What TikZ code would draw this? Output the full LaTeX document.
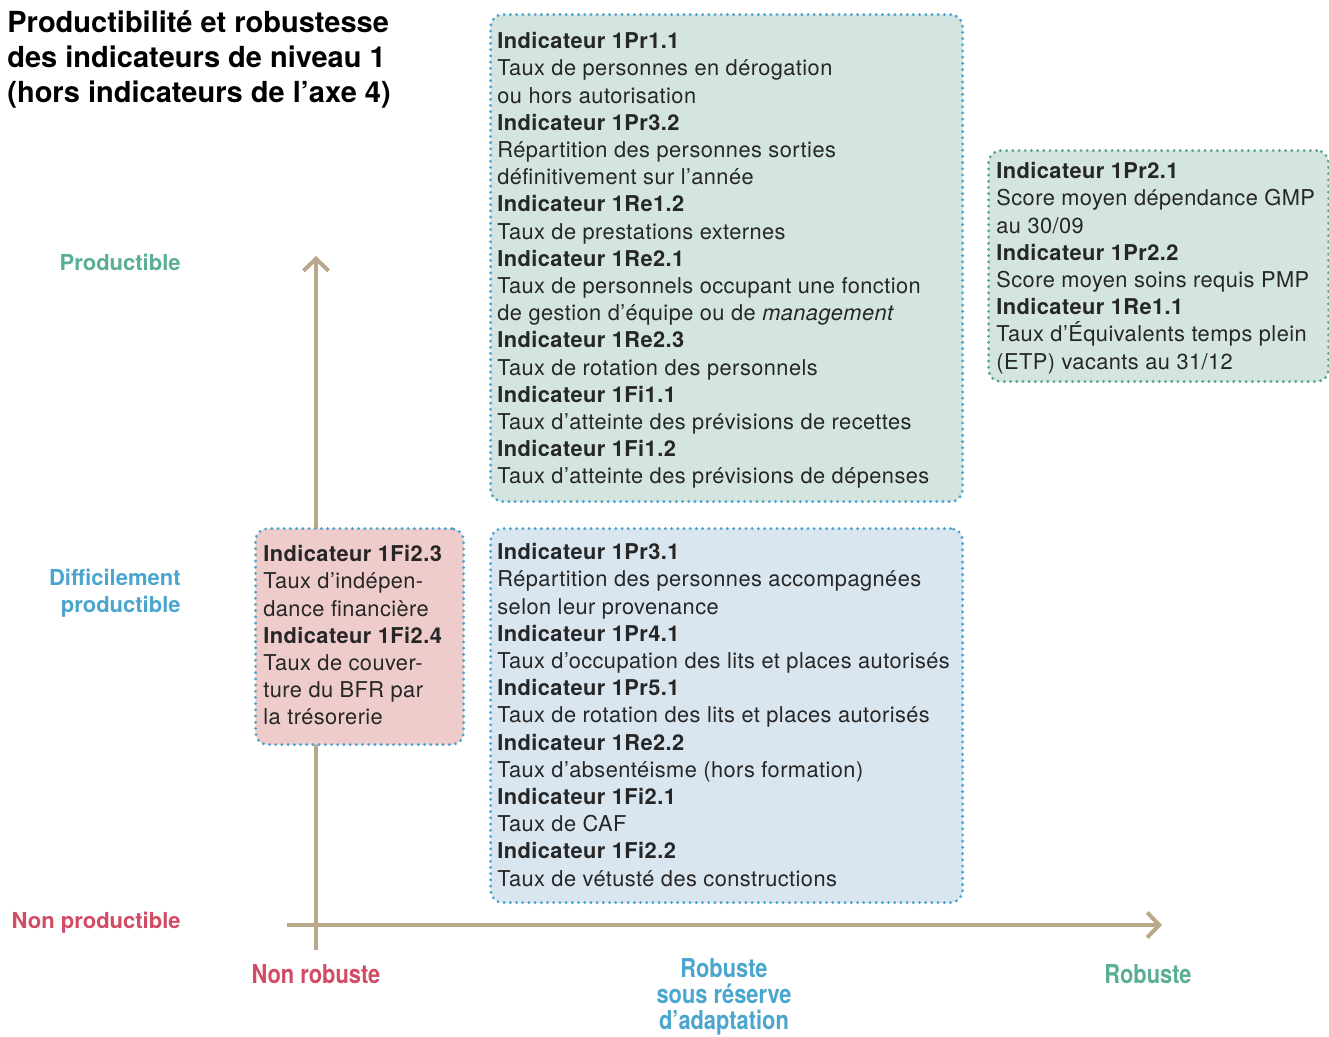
\documentclass[tikz,border=0pt]{standalone}
\usepackage{fontspec}
\setmainfont{TeX Gyre Heros}
\newfontfamily\bodyfont[LetterSpace=2]{TeX Gyre Heros}
\usetikzlibrary{arrows.meta,calc}
\definecolor{axiscol}{RGB}{185,168,138}
\definecolor{dotblue}{RGB}{74,163,207}
\definecolor{dotgreen}{RGB}{88,166,140}
\definecolor{fillgreen}{RGB}{212,228,222}
\definecolor{fillblue}{RGB}{217,229,239}
\definecolor{fillpink}{RGB}{239,204,204}
\definecolor{labgreen}{RGB}{90,174,150}
\definecolor{labblue}{RGB}{74,165,207}
\definecolor{labred}{RGB}{210,74,99}
\definecolor{txtcol}{RGB}{38,38,38}
\newcommand{\cond}[1]{\scalebox{0.84}[1]{#1}}
\begin{document}
\begin{tikzpicture}[x=0.5pt,y=-0.5pt,
  panel/.style={draw=dotblue, line width=1.6pt, dash pattern=on 0pt off 3.1pt,
    line cap=round, rounded corners=6pt, inner sep=0pt, anchor=north west},
  paneltext/.style={anchor=north west, inner sep=0pt, align=left, text=txtcol,
    font=\bodyfont\fontsize{10.9pt}{13.6pt}\selectfont},
  axis/.style={draw=axiscol, line width=2pt,
    -{Straight Barb[length=6pt,width=12.5pt]}},
  sidelabel/.style={inner sep=0pt, align=right, font=\bfseries\fontsize{11pt}{13.5pt}\selectfont},
  foot/.style={inner sep=0pt, align=center, font=\bfseries\fontsize{13pt}{12.9pt}\selectfont}]
\useasboundingbox (0,0) rectangle (1329,1037);

% title
\node[anchor=north west, inner sep=0pt, align=left, text=black,
  font=\bfseries\fontsize{14.5pt}{17.5pt}\selectfont] (title) at (7,10)
  {Productibilité et robustesse\\des indicateurs de niveau 1\\(hors indicateurs de l’axe 4)};

% axes
\coordinate (yfoot) at (316,950);
\coordinate (ytip) at (316,256);
\coordinate (xfoot) at (287,925);
\coordinate (xtip) at (1162,925);
\draw[axis] (yfoot) -- (ytip);
\draw[axis] (xfoot) -- (xtip);

% axis labels
\node[sidelabel, text=labgreen, anchor=east] (prod) at (181,262) {Productible};
\node[sidelabel, text=labblue, anchor=east] (dprod) at (181,593) {Difficilement\\productible};
\node[sidelabel, text=labred, anchor=east] (nprod) at (181,923) {Non productible};
\node[foot, text=labred] (nrob) at (316,974) {\cond{Non robuste}};
\node[foot, text=labblue] (rsr) at (724,997) {\cond{Robuste}\\\cond{sous réserve}\\\cond{d’adaptation}};
\node[foot, text=labgreen] (rob) at (1148,974) {\cond{Robuste}};

% panels
\node[panel, fill=fillgreen, minimum width=236pt, minimum height=243.5pt] (pa) at (489,13) {};
\node[panel, draw=dotgreen, fill=fillgreen, minimum width=170pt, minimum height=115.5pt] (pb) at (987,149) {};
\node[panel, fill=fillpink, minimum width=104pt, minimum height=108pt] (pc) at (254,527) {};
\node[panel, fill=fillblue, minimum width=236pt, minimum height=187pt] (pd) at (489,527) {};

\node[paneltext] (ta) at (497,32) {%
\textbf{Indicateur 1Pr1.1}\\
Taux de personnes en dérogation\\
ou hors autorisation\\
\textbf{Indicateur 1Pr3.2}\\
Répartition des personnes sorties\\
définitivement sur l’année\\
\textbf{Indicateur 1Re1.2}\\
Taux de prestations externes\\
\textbf{Indicateur 1Re2.1}\\
Taux de personnels occupant une fonction\\
de gestion d’équipe ou de \textit{management}\\
\textbf{Indicateur 1Re2.3}\\
Taux de rotation des personnels\\
\textbf{Indicateur 1Fi1.1}\\
Taux d’atteinte des prévisions de recettes\\
\textbf{Indicateur 1Fi1.2}\\
Taux d’atteinte des prévisions de dépenses};

\node[paneltext] (tb) at (996,162) {%
\textbf{Indicateur 1Pr2.1}\\
Score moyen dépendance GMP\\
au 30/09\\
\textbf{Indicateur 1Pr2.2}\\
Score moyen soins requis PMP\\
\textbf{Indicateur 1Re1.1}\\
Taux d’Équivalents temps plein\\
(ETP) vacants au 31/12};

\node[paneltext] (tc) at (263,545) {%
\textbf{Indicateur 1Fi2.3}\\
Taux d’indépen-\\
dance financière\\
\textbf{Indicateur 1Fi2.4}\\
Taux de couver-\\
ture du BFR par\\
la trésorerie};

\node[paneltext] (td) at (497,543) {%
\textbf{Indicateur 1Pr3.1}\\
Répartition des personnes accompagnées\\
selon leur provenance\\
\textbf{Indicateur 1Pr4.1}\\
Taux d’occupation des lits et places autorisés\\
\textbf{Indicateur 1Pr5.1}\\
Taux de rotation des lits et places autorisés\\
\textbf{Indicateur 1Re2.2}\\
Taux d’absentéisme (hors formation)\\
\textbf{Indicateur 1Fi2.1}\\
Taux de CAF\\
\textbf{Indicateur 1Fi2.2}\\
Taux de vétusté des constructions};
\end{tikzpicture}
\end{document}
